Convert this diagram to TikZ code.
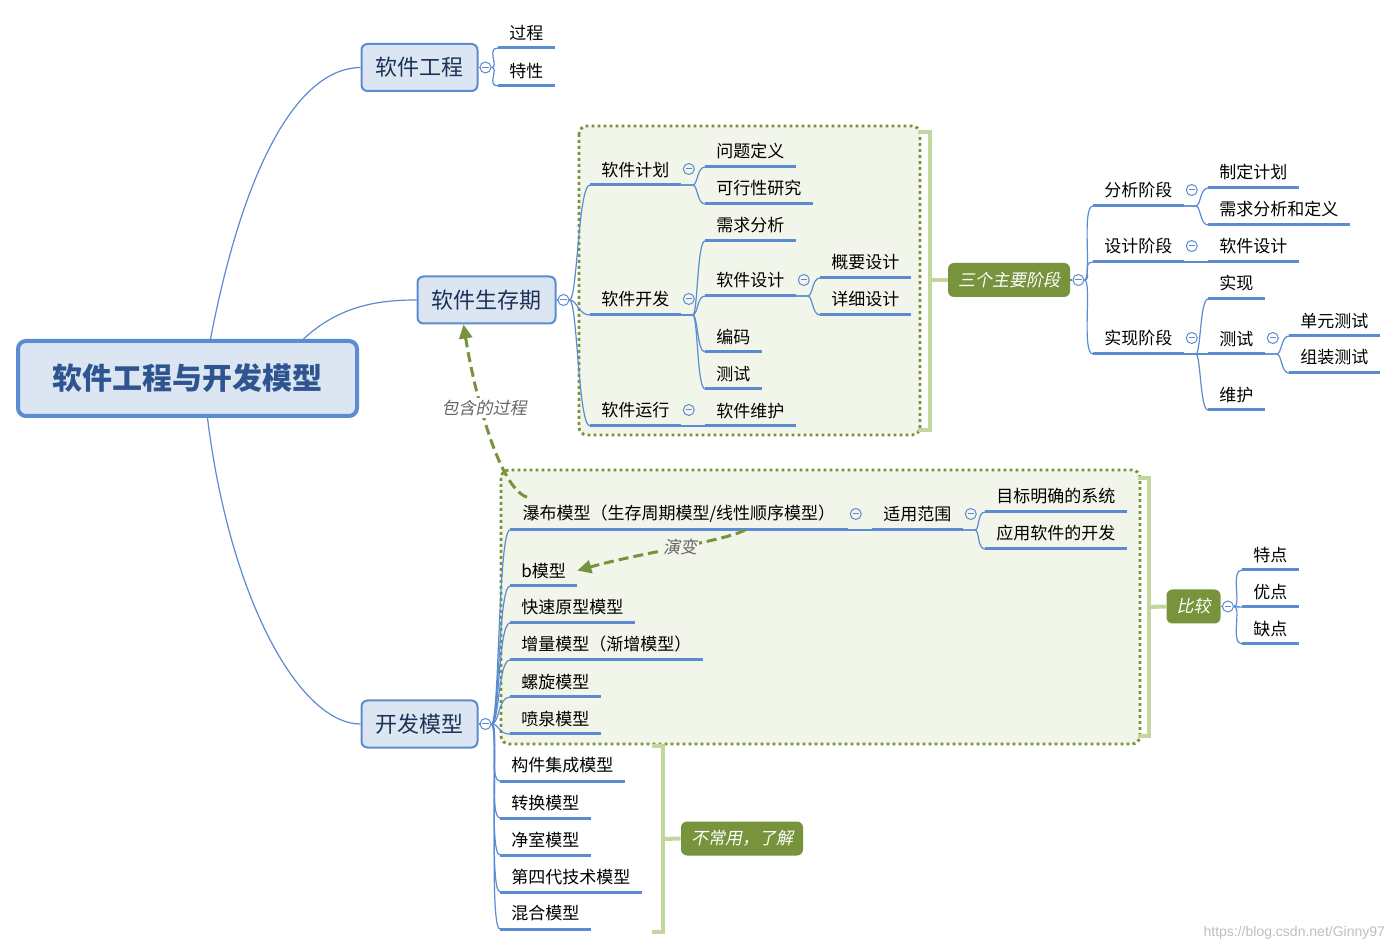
\documentclass[tikz,border=0pt]{standalone}
\usepackage{fontspec}
\setmainfont{Noto Sans CJK SC}[AutoFakeSlant=0.2]
\newfontfamily\urlfont{Liberation Sans}
\usetikzlibrary{arrows.meta,calc}

\definecolor{mmblue}{HTML}{5B8BD0}
\definecolor{mmfill}{HTML}{DCE6F2}
\definecolor{mmnavy}{HTML}{1B3358}
\definecolor{mmroot}{HTML}{2E5590}
\definecolor{mmolive}{HTML}{77933C}
\definecolor{mmpanel}{HTML}{F2F5EA}
\definecolor{mmbrace}{HTML}{C3D69B}

\begin{document}
\begin{tikzpicture}[x=0.5pt,y=-0.5pt,
	topic/.style={anchor=south west, font=\fontsize{8.5}{10}\selectfont, inner xsep=5.5pt, inner ysep=3.6pt},
	uline/.style={draw=mmblue, line width=1.5pt},
	branch/.style={draw=mmblue, line width=0.6pt},
	mainbox/.style={draw=mmblue, line width=1pt, fill=mmfill, rounded corners=3pt, text=mmnavy, font=\fontsize{11}{13}\selectfont, minimum height=23.5pt, inner xsep=7pt},
	tagbox/.style={fill=mmolive, rounded corners=3pt, text=white, font=\fontsize{8.5}{10}\selectfont\itshape, minimum height=17pt, inner xsep=5pt},
	fold/.style={circle, draw=mmblue, line width=0.5pt, minimum size=5.5pt, inner sep=0pt,
		path picture={\draw[mmblue, line width=0.5pt] ([xshift=-1.6pt]path picture bounding box.center) -- ([xshift=1.6pt]path picture bounding box.center);}},
	panel/.style={fill=mmpanel, draw=mmolive, line width=1.4pt, dash pattern=on 1.4pt off 1.6pt, rounded corners=4pt},
	brace/.style={draw=mmbrace, line width=2pt},
	relation/.style={draw=mmolive, line width=1.5pt, dash pattern=on 5pt off 2.5pt, -{Triangle[length=7pt,width=6.5pt]}},
	note/.style={font=\fontsize{8.5}{10}\selectfont\itshape, text=black!60, inner sep=1pt}
]
	\path[use as bounding box, fill=white] (0,0) rectangle (1398,951);

	% boundary panels
	\draw[panel] (579,126) rectangle (920,435);
	\draw[panel] (501,470) rectangle (1140,744);

	% central topic and main branches
	\node[draw=mmblue, line width=2pt, fill=mmfill, rounded corners=4pt, text=mmroot, font=\fontsize{15}{18}\selectfont\bfseries, minimum width=169.5pt, minimum height=37.5pt] (root) at (187.5,378.5) {软件工程与开发模型};
	\node[mainbox] (se) at (419.5,67.5) {软件工程};
	\node[mainbox] (lcp) at (486.5,300) {软件生存期};
	\node[mainbox] (kfmx) at (419.5,724) {开发模型};
	\draw[branch] ([xshift=11.5pt]root.north) .. controls (245,160) and (300,68) .. (se.west);
	\draw[branch] ([xshift=58pt]root.north) .. controls (340,305) and (380,300) .. (lcp.west);
	\draw[branch] ([xshift=10pt]root.south) .. controls (230,600) and (300,724) .. (kfmx.west);
	\node[fold] (fse) at ([xshift=3.5pt]se.east) {};
	\node[fold] (flcp) at ([xshift=3.5pt]lcp.east) {};
	\node[fold] (fkfmx) at ([xshift=3.5pt]kfmx.east) {};
	\foreach \b in {se,lcp,kfmx} \draw[branch] (\b.east) -- (f\b);

	% 软件工程
	\node[topic] (gc) at (498,48) {过程};
	\node[topic] (tx) at (498,86) {特性};

	% 软件生存期
	\node[topic] (jh) at (590,185) {软件计划};
	\node[topic] (kf) at (590,315) {软件开发};
	\node[topic] (yx) at (590,426) {软件运行};
	\node[topic] (wtdy) at (705,167) {问题定义};
	\node[topic] (kxx) at (705,204) {可行性研究};
	\node[topic] (xqfx) at (705,241) {需求分析};
	\node[topic] (rjsj) at (705,296) {软件设计};
	\node[topic] (code) at (705,352) {编码};
	\node[topic] (cs) at (705,389) {测试};
	\node[topic] (gysj) at (820,278) {概要设计};
	\node[topic] (xxsj) at (820,315) {详细设计};
	\node[topic] (whu) at (705,426) {软件维护};

	% 三个主要阶段
	\node[tagbox] (stg) at (1009,280) {三个主要阶段};
	\node[fold] (fstg) at ([xshift=4pt]stg.east) {};
	\node[topic] (fxjd) at (1093,206) {分析阶段};
	\node[topic] (sjjd) at (1093,262) {设计阶段};
	\node[topic] (sxjd) at (1093,354) {实现阶段};
	\node[topic] (zdjh) at (1208,188) {制定计划};
	\node[topic] (xqdy) at (1208,225) {需求分析和定义};
	\node[topic] (rjsj2) at (1208,262) {软件设计};
	\node[topic] (sx) at (1208,299) {实现};
	\node[topic] (cs2) at (1208,354) {测试};
	\node[topic] (wh) at (1208,410) {维护};
	\node[topic] (dycs) at (1289,336) {单元测试};
	\node[topic] (zzcs) at (1289,373) {组装测试};

	% 开发模型
	\node[topic, minimum width=168.5pt, align=left] (wf) at (510,530) {瀑布模型（生存周期模型/线性顺序模型）\hfill};
	\node[topic] (syfw) at (872,530) {适用范围};
	\node[topic] (mbxt) at (985,512) {目标明确的系统};
	\node[topic] (yyrj) at (985,549) {应用软件的开发};
	\node[topic] (bmx) at (510,586) {b模型};
	\node[topic] (ksyx) at (510,623) {快速原型模型};
	\node[topic] (zlmx) at (510,660) {增量模型（渐增模型）};
	\node[topic] (lxmx) at (510,697) {螺旋模型};
	\node[topic] (pqmx) at (510,734) {喷泉模型};
	\node[topic] (gjjc) at (500,781) {构件集成模型};
	\node[topic] (zhmx) at (500,818) {转换模型};
	\node[topic] (jsmx) at (500,855) {净室模型};
	\node[topic] (dsd) at (500,892) {第四代技术模型};
	\node[topic] (hhmx) at (500,929) {混合模型};

	% 比较
	\node[tagbox] (cmp) at (1193.5,606.5) {比较};
	\node[fold] (fcmp) at ([xshift=3.5pt]cmp.east) {};
	\node[topic] (td) at (1242,570) {特点};
	\node[topic] (yd) at (1242,607) {优点};
	\node[topic] (qd) at (1242,644) {缺点};

	\node[tagbox] (rare) at (742,838.5) {不常用，了解};

	% underlines
	\foreach \t in {gc,tx,jh,kf,yx,wtdy,kxx,xqfx,rjsj,code,cs,gysj,xxsj,whu,
		fxjd,sjjd,sxjd,zdjh,xqdy,rjsj2,sx,cs2,wh,dycs,zzcs,
		wf,syfw,mbxt,yyrj,bmx,ksyx,zlmx,lxmx,pqmx,gjjc,zhmx,jsmx,dsd,hhmx,td,yd,qd}
		\draw[uline] (\t.south west) -- (\t.south east);

	% folds on topics
	\foreach \t in {jh,kf,yx,rjsj,fxjd,sjjd,sxjd,cs2,wf,syfw}
		\node[fold] (f\t) at ([shift={(8,-16)}]\t.south east) {};

	% branches from folds
	\foreach \p/\c in {fse/gc,fse/tx,flcp/jh,flcp/kf,flcp/yx,fstg/fxjd,fstg/sjjd,fstg/sxjd,
		fkfmx/wf,fkfmx/bmx,fkfmx/ksyx,fkfmx/zlmx,fkfmx/lxmx,fkfmx/pqmx,
		fkfmx/gjjc,fkfmx/zhmx,fkfmx/jsmx,fkfmx/dsd,fkfmx/hhmx,fcmp/td,fcmp/yd,fcmp/qd}
		\draw[branch] (\p.east) .. controls ($(\p.east)+(8,0)$) and ($(\c.south west)+(-12,0)$) .. (\c.south west);
	\draw[branch] (stg.east) -- (fstg);
	\draw[branch] (cmp.east) -- (fcmp);

	% branches from topics
	\foreach \p/\c in {jh/wtdy,jh/kxx,kf/xqfx,kf/rjsj,kf/code,kf/cs,rjsj/gysj,rjsj/xxsj,yx/whu,
		fxjd/zdjh,fxjd/xqdy,sjjd/rjsj2,sxjd/sx,sxjd/cs2,sxjd/wh,cs2/dycs,cs2/zzcs,
		wf/syfw,syfw/mbxt,syfw/yyrj}
		\draw[branch] (\p.south east) -- ++(12,0) .. controls +(5,0) and ($(\c.south west)+(-8,0)$) .. (\c.south west);

	% summary brackets
	\draw[brace] (918,132) -- (930,132) -- (930,430) -- (918,430);
	\coordinate (sumA) at (930,280);
	\draw[brace] (sumA) -- (stg.west);
	\draw[brace] (1138,478) -- (1149,478) -- (1149,736) -- (1138,736);
	\coordinate (sumB) at (1149,607);
	\draw[brace] (sumB) -- (cmp.west);
	\draw[brace] (652,746) -- (663,746) -- (663,932) -- (652,932);
	\coordinate (sumC) at (663,839);
	\draw[brace] (sumC) -- (rare.west);

	% relations
	\draw[relation] ([xshift=8.5pt]wf.north west) .. controls (498,487) and (474,390) .. ([xshift=-11.5pt]lcp.south);
	\node[note, fill=white] (incl) at (484,408) {包含的过程};
	\draw[relation] ([xshift=117.5pt]wf.south west) .. controls (725,541) and (640,553) .. (bmx.east);
	\node[note, fill=mmpanel] (evol) at (680,547) {演变};

	\node[font=\urlfont\fontsize{7}{8}\selectfont, text=black!25, anchor=east] (wm) at (1392,933) {https://blog.csdn.net/Ginny97};
\end{tikzpicture}
\end{document}
